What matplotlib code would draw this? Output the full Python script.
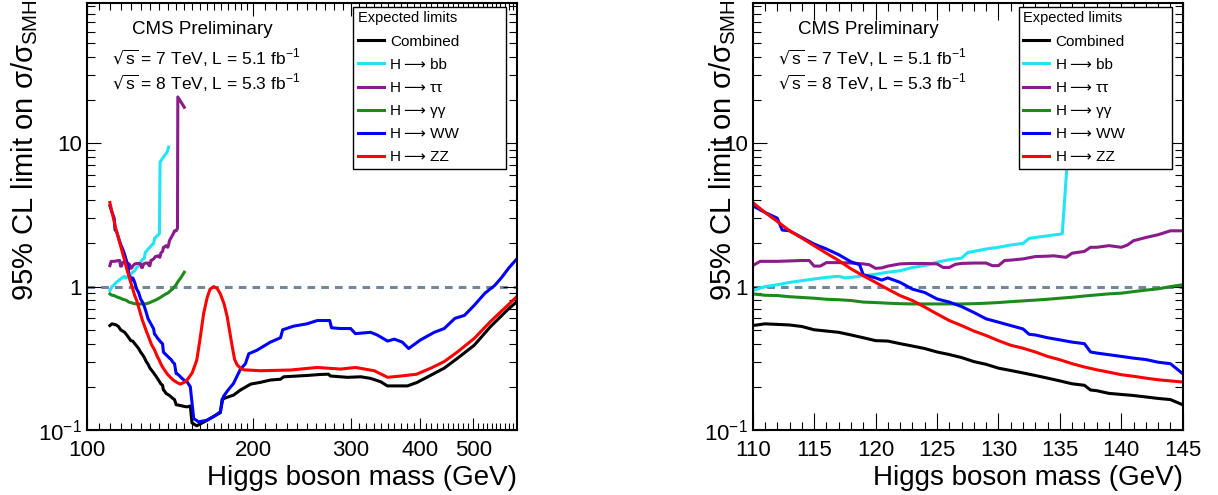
import matplotlib
matplotlib.use("Agg")
import matplotlib.pyplot as plt
from matplotlib.ticker import FixedLocator, FixedFormatter, NullFormatter, LogLocator
from matplotlib.lines import Line2D

plt.rcParams['font.family'] = ['Liberation Sans', 'DejaVu Sans']
plt.rcParams['mathtext.default'] = 'regular'

# expected limits
comb_m = [110, 111, 112, 113, 114, 115, 116, 117, 118, 119, 120, 121, 122, 123, 124, 125, 126, 127, 128, 129,
          130, 131, 132, 133, 134, 135, 136, 137, 137.5, 138, 139, 140, 141, 142, 143, 144, 145,
          146.5, 150, 151.7, 153.8, 154.9, 158, 165, 170, 174.3, 175.6, 180, 184.1, 189.5, 197.8, 206, 214.7,
          224, 227, 250, 264.5, 273.5, 275.6, 296, 313, 326, 340, 349.6, 380, 395, 419, 443, 468, 502, 537, 577, 603]
comb_v = [0.535, 0.55, 0.545, 0.54, 0.527, 0.50, 0.49, 0.48, 0.46, 0.44, 0.42, 0.417, 0.40, 0.385, 0.37, 0.35,
          0.336, 0.32, 0.30, 0.287, 0.27, 0.26, 0.25, 0.24, 0.23, 0.22, 0.21, 0.205, 0.19, 0.188, 0.18, 0.177,
          0.174, 0.17, 0.166, 0.163, 0.15,
          0.149, 0.146, 0.145, 0.147, 0.112, 0.107, 0.117, 0.125, 0.132, 0.164, 0.17, 0.175, 0.19, 0.209, 0.215,
          0.223, 0.226, 0.235, 0.24, 0.244, 0.245, 0.238, 0.233, 0.235, 0.229, 0.217, 0.203, 0.203, 0.214, 0.241,
          0.27, 0.316, 0.39, 0.525, 0.69, 0.8]

bb_m = [110, 111, 112, 113, 114, 115, 116, 117, 117.5, 118, 119, 120, 121, 122, 123, 124, 125, 126, 127, 127.5,
        128, 129, 130, 131, 132, 132.5, 133, 134, 135, 135.2, 135.6, 137.5, 138.5, 139.5, 140.5]
bb_v = [0.94, 1.0, 1.03, 1.07, 1.10, 1.13, 1.16, 1.18, 1.15, 1.16, 1.19, 1.22, 1.26, 1.29, 1.36, 1.40, 1.48,
        1.54, 1.58, 1.73, 1.76, 1.83, 1.88, 1.95, 2.0, 2.17, 2.2, 2.26, 2.32, 2.34, 7.4, 8.0, 8.3, 8.6, 9.4]

tt_m = [110, 110.6, 112, 113, 114, 114.6, 115, 115.5, 116, 117, 118, 119, 119.5, 120, 120.5, 121, 122, 123, 124,
        125, 125.5, 126, 126.5, 127, 128, 129, 129.5, 130, 130.5, 131, 132, 133, 134, 134.5, 135, 135.5, 136,
        137, 137.5, 138, 139, 140, 140.5, 141, 142, 143, 144, 145, 145.8, 146, 150]
tt_v = [1.40, 1.50, 1.50, 1.51, 1.52, 1.52, 1.39, 1.39, 1.47, 1.47, 1.46, 1.44, 1.42, 1.34, 1.35, 1.39, 1.44,
        1.45, 1.45, 1.44, 1.36, 1.36, 1.43, 1.45, 1.46, 1.46, 1.40, 1.40, 1.52, 1.53, 1.56, 1.62, 1.63, 1.64,
        1.62, 1.60, 1.71, 1.76, 1.88, 1.88, 1.93, 1.88, 1.95, 2.09, 2.2, 2.3, 2.45, 2.45, 2.55, 21.0, 17.8]

gg_m = [110, 111, 112, 113, 114, 115, 116, 117, 118, 119, 120, 121, 122, 123, 124, 125, 126, 127, 128, 129, 130,
        131, 132, 133, 134, 135, 136, 137, 138, 139, 140, 141, 142, 143, 144, 145, 146, 147, 148, 149, 150]
gg_v = [0.89, 0.87, 0.866, 0.85, 0.84, 0.83, 0.816, 0.81, 0.80, 0.78, 0.774, 0.766, 0.76, 0.757, 0.757, 0.757,
        0.757, 0.757, 0.76, 0.766, 0.774, 0.785, 0.795, 0.805, 0.816, 0.83, 0.843, 0.86, 0.875, 0.89, 0.90,
        0.923, 0.945, 0.965, 1.0, 1.03, 1.08, 1.12, 1.16, 1.21, 1.26]

ww_m = [110, 111, 112, 112.4, 113, 114, 115, 116, 117, 118, 118.7, 119, 120, 120.5, 121, 122, 123, 124, 125, 126,
        127, 128, 129, 130, 131, 132, 132.5, 133, 134, 135, 136, 137, 137.5, 138, 139, 140, 141, 142, 143, 144,
        145, 146, 148.6, 150, 151.7, 153.8, 156, 159.2, 164.9, 170, 174.3, 176.5, 180, 184.1, 189.5, 193.5,
        196.2, 203, 214.7, 224, 226, 236.6, 250, 261, 275, 277, 288, 300, 306, 326, 335, 350, 360, 372, 382,
        401, 425, 443, 463, 482, 502, 525, 547, 563, 580, 603]
ww_v = [3.66, 3.29, 3.0, 2.48, 2.45, 2.2, 1.98, 1.83, 1.67, 1.49, 1.42, 1.21, 1.15, 1.11, 1.15, 1.07, 0.96, 0.91,
        0.82, 0.78, 0.726, 0.66, 0.596, 0.565, 0.535, 0.507, 0.465, 0.46, 0.44, 0.425, 0.41, 0.40, 0.35, 0.344,
        0.335, 0.326, 0.317, 0.31, 0.297, 0.29, 0.247, 0.245, 0.229, 0.222, 0.217, 0.2, 0.12, 0.114, 0.117,
        0.125, 0.134, 0.171, 0.19, 0.211, 0.265, 0.29, 0.34, 0.36, 0.41, 0.44, 0.50, 0.53, 0.55, 0.58, 0.58,
        0.516, 0.51, 0.51, 0.47, 0.48, 0.46, 0.417, 0.43, 0.41, 0.37, 0.424, 0.48, 0.51, 0.6, 0.63, 0.74, 0.9,
        1.02, 1.16, 1.35, 1.6]

zz_m = [110, 111, 112, 113, 114, 115, 116, 117, 118, 119, 120, 121, 122, 123, 124, 125, 126, 127, 128, 129, 130,
        131, 132, 133, 134, 135, 136, 137, 138, 139, 140, 141, 142, 143, 144, 145,
        147.5, 150, 152, 155, 158, 160, 162.6, 165, 167, 169.6, 172, 174.3, 177, 179.3, 181, 183.2, 185, 187,
        190, 192, 206, 233.5, 261, 288, 306, 331, 350, 370, 395, 419, 443, 468, 502, 537, 577, 603]
zz_v = [3.86, 3.29, 2.85, 2.45, 2.18, 1.93, 1.71, 1.52, 1.33, 1.19, 1.07, 0.96, 0.865, 0.80, 0.72, 0.645, 0.58,
        0.535, 0.49, 0.456, 0.42, 0.39, 0.372, 0.35, 0.326, 0.309, 0.29, 0.275, 0.263, 0.253, 0.243, 0.237,
        0.23, 0.224, 0.22, 0.216,
        0.209, 0.215, 0.225, 0.25, 0.307, 0.42, 0.65, 0.84, 0.96, 1.0, 0.97, 0.89, 0.76, 0.62, 0.5, 0.38, 0.31,
        0.284, 0.268, 0.263, 0.259, 0.262, 0.273, 0.266, 0.273, 0.259, 0.233, 0.238, 0.245, 0.27, 0.30, 0.35,
        0.435, 0.57, 0.74, 0.87]

series = [
    ("Combined", comb_m, comb_v, "black"),
    ("H\u2009\u27f6 bb", bb_m, bb_v, "#22e4f4"),
    ("H\u2009\u27f6 \u03c4\u03c4", tt_m, tt_v, "#8b1a8b"),
    ("H\u2009\u27f6 \u03b3\u03b3", gg_m, gg_v, "#1e8a1e"),
    ("H\u2009\u27f6 WW", ww_m, ww_v, "#0000ff"),
    ("H\u2009\u27f6 ZZ", zz_m, zz_v, "#ff0000"),
]

W, H = 1218, 495
fig = plt.figure(figsize=(W / 100, H / 100), dpi=100)
ax1 = fig.add_axes([87 / W, 65 / H, 430 / W, 427 / H])
ax2 = fig.add_axes([752.7 / W, 65 / H, 430 / W, 427 / H])


def style(ax, ylab_x):
    ax.set_yscale('log')
    ax.set_ylim(0.1, 95)
    ax.axhline(1, color='#74879a', ls=(0, (2.5, 2)), lw=2.2, zorder=1)
    handles = []
    for name, m, v, c in series:
        ax.plot(m, v, color=c, lw=2.2, zorder=2)
        handles.append(Line2D([], [], color=c, lw=2.2, label=name))
    ax.yaxis.set_major_locator(FixedLocator([0.1, 1, 10]))
    ax.yaxis.set_major_formatter(FixedFormatter(['10$^{-1}$', '1', '10']))
    ax.yaxis.set_minor_locator(LogLocator(subs=range(2, 10)))
    ax.yaxis.set_minor_formatter(NullFormatter())
    ax.tick_params(which='both', direction='in', top=True, right=True, labelsize=16, width=0.8)
    ax.tick_params(axis='y', which='major', length=10, pad=3.5)
    ax.tick_params(axis='y', which='minor', length=6)
    for s in ax.spines.values():
        s.set_linewidth(1.5)
    ax.set_xlabel('Higgs boson mass (GeV)', fontsize=20, loc='right', labelpad=3)
    ax.set_ylabel('95% CL limit on \u03c3/\u03c3$_{SMH}$', fontsize=21, loc='top')
    ax.yaxis.set_label_coords(ylab_x, 1.01)
    ax.text(0.268, 0.937, 'CMS Preliminary', ha='center', va='center', fontsize=13.5, transform=ax.transAxes)
    ax.text(0.058, 0.871, '$\\sqrt{s}$ = 7 TeV, L = 5.1 fb$^{-1}$', ha='left', va='center', fontsize=12.5,
            transform=ax.transAxes)
    ax.text(0.058, 0.813, '$\\sqrt{s}$ = 8 TeV, L = 5.3 fb$^{-1}$', ha='left', va='center', fontsize=12.5,
            transform=ax.transAxes)
    leg = ax.legend(handles=handles, title='Expected limits', loc='upper left',
                    bbox_to_anchor=(0.619, 0.3, 0.356, 0.691), mode='expand',
                    fontsize=11, title_fontsize=10.5, fancybox=False, edgecolor='black', framealpha=1,
                    handlelength=1.7, handletextpad=0.4, labelspacing=0.6, borderpad=0.3,
                    borderaxespad=0, alignment='left')
    leg.get_frame().set_linewidth(1.0)
    leg.set_zorder(5)


# left panel: log mass axis
ax1.set_xscale('log')
ax1.set_xlim(100, 600)
style(ax1, -0.11)
ax1.xaxis.set_major_locator(FixedLocator([100, 200, 300, 400, 500]))
ax1.xaxis.set_major_formatter(FixedFormatter(['100', '200', '300', '400', '500']))
ax1.xaxis.set_minor_locator(FixedLocator([m for m in range(105, 200, 5)] + [m for m in range(210, 600, 10) if m % 100]))
ax1.xaxis.set_minor_formatter(NullFormatter())
ax1.tick_params(axis='x', which='major', length=9, pad=7)
ax1.tick_params(axis='x', which='minor', length=5)

# right panel: zoom on the low mass region
ax2.set_xlim(110, 145)
style(ax2, -0.035)
ax2.xaxis.set_major_locator(FixedLocator(list(range(110, 146, 5))))
ax2.xaxis.set_minor_locator(FixedLocator(list(range(110, 146, 1))))
ax2.tick_params(axis='x', which='major', length=12, pad=7)
ax2.tick_params(axis='x', which='minor', length=6)

fig.savefig('out.png', dpi=100)
